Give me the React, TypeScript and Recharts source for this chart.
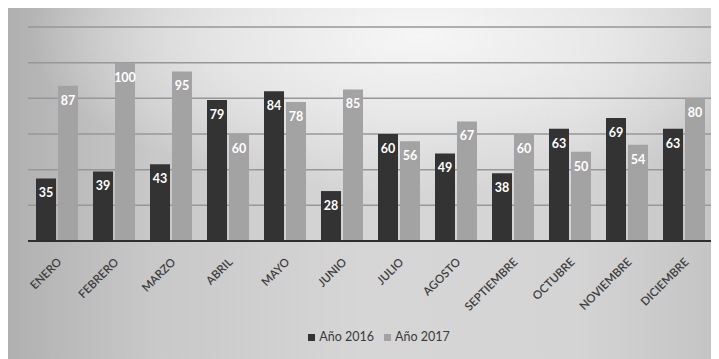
import React from "react";
import {
  BarChart,
  Bar,
  XAxis,
  YAxis,
  CartesianGrid,
  Legend,
  LabelList,
} from "recharts";

const months = [
  "ENERO",
  "FEBRERO",
  "MARZO",
  "ABRIL",
  "MAYO",
  "JUNIO",
  "JULIO",
  "AGOSTO",
  "SEPTIEMBRE",
  "OCTUBRE",
  "NOVIEMBRE",
  "DICIEMBRE",
];
const year2016 = [35, 39, 43, 79, 84, 28, 60, 49, 38, 63, 69, 63];
const year2017 = [87, 100, 95, 60, 78, 85, 56, 67, 60, 50, 54, 80];
const yTicks = [0, 20, 40, 60, 80, 100, 120];

const data = months.map((m, i) => ({
  name: m,
  a2016: year2016[i],
  a2017: year2017[i],
}));

const FONT = "Lato, 'Open Sans', sans-serif";

const MonthTick = (props: any) => {
  const { x, y, payload } = props;
  return (
    <g transform={`translate(${x + 3},${y + 11})`}>
      <text
        transform="rotate(-45)"
        textAnchor="end"
        fontSize={11.5}
        fontWeight={600}
        fontFamily={FONT}
        fill="#3e3e3e"
        dy={4}
      >
        {payload.value}
      </text>
    </g>
  );
};

const App = () => {
  return (
    <div
      style={{
        width: 711,
        height: 351,
        background:
          "radial-gradient(ellipse 55% 45% at 58% 8%, rgba(246,246,246,1) 0%, rgba(236,236,236,0.8) 50%, rgba(220,220,220,0) 100%), linear-gradient(90deg, #b0b0b0 0%, #c8c8c8 20%, #d6d6d6 50%, #d4d4d4 80%, #c4c4c4 100%)",
      }}
    >
      <BarChart
        width={711}
        height={351}
        data={data}
        margin={{ top: 19, right: 7, left: 20, bottom: 15 }}
        barGap={2}
        barCategoryGap="14%"
      >
        <CartesianGrid
          vertical={false}
          stroke="#979797"
          strokeWidth={1.5}
        />
        <YAxis hide domain={[0, 120]} ticks={yTicks} />
        <XAxis
          dataKey="name"
          interval={0}
          height={88}
          tick={<MonthTick />}
          tickLine={false}
          axisLine={{ stroke: "#2e2e2e", strokeWidth: 2 }}
        />
        <Legend
          verticalAlign="bottom"
          align="center"
          iconType="square"
          iconSize={7}
          wrapperStyle={{ fontFamily: FONT, fontSize: 12.5, paddingLeft: 14 }}
          formatter={(v: string) => <span style={{ color: "#3a3a3a" }}>{v}</span>}
        />
        <Bar
          dataKey="a2016"
          name="Año 2016"
          fill="#333333"
          barSize={20}
          isAnimationActive={false}
        >
          <LabelList
            dataKey="a2016"
            position="insideTop"
            offset={10}
            fill="#ffffff"
            fontSize={12.5}
            fontWeight="bold"
            fontFamily={FONT}
          />
        </Bar>
        <Bar
          dataKey="a2017"
          name="Año 2017"
          fill="#a3a3a3"
          barSize={20}
          isAnimationActive={false}
        >
          <LabelList
            dataKey="a2017"
            position="insideTop"
            offset={10}
            fill="#ffffff"
            fontSize={12.5}
            fontWeight="bold"
            fontFamily={FONT}
          />
        </Bar>
      </BarChart>
    </div>
  );
};

export default App;
